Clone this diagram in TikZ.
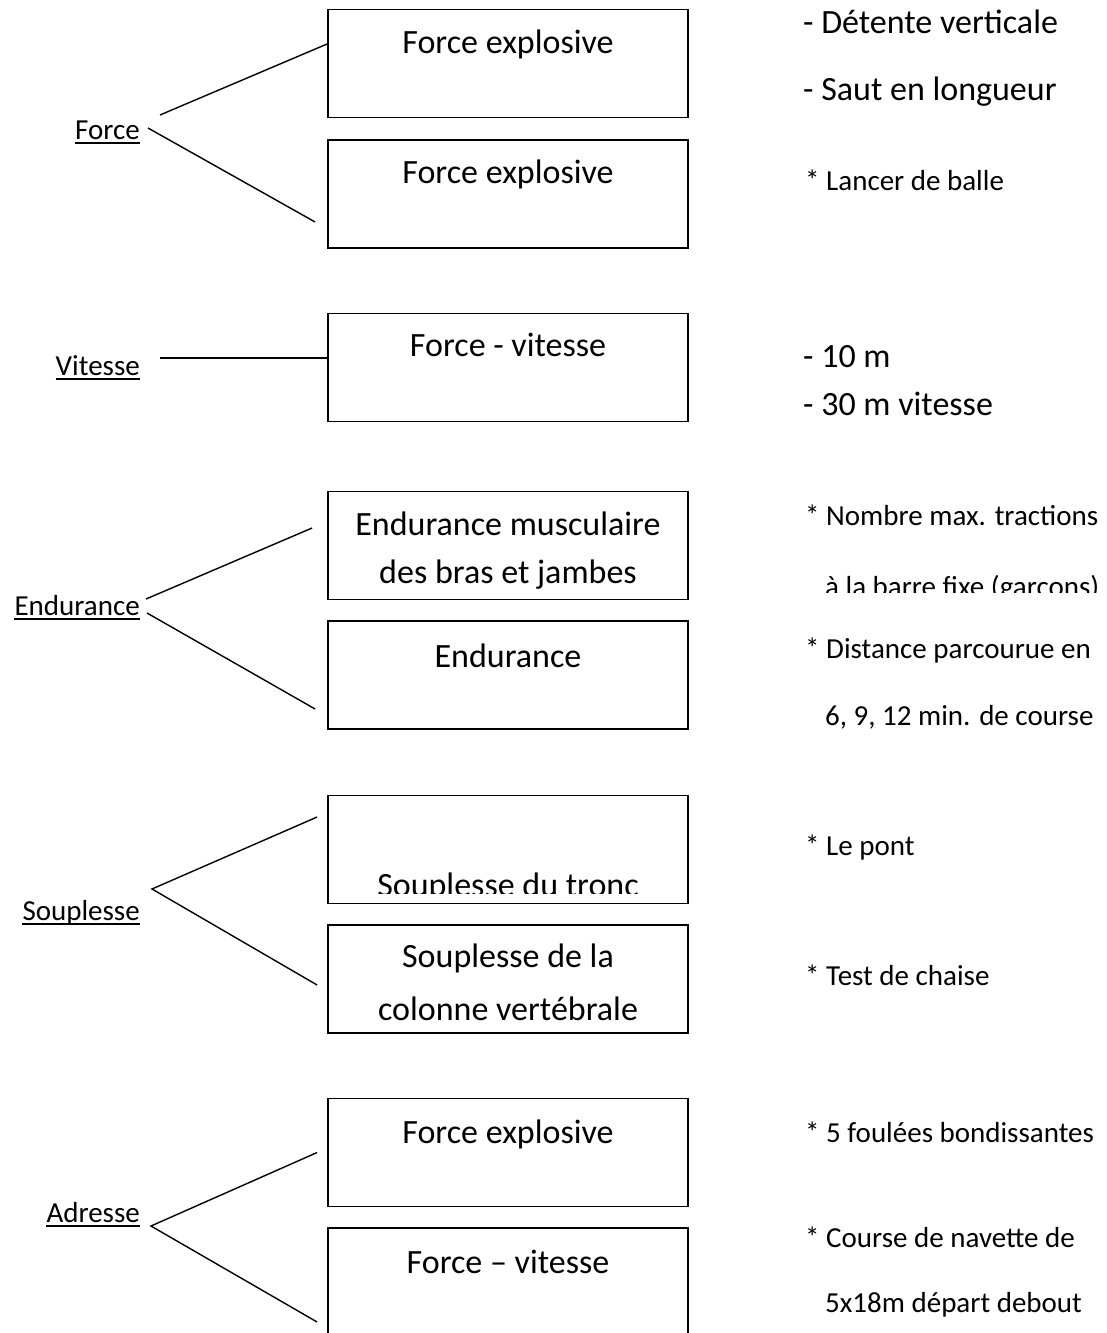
\documentclass[tikz,border=0pt]{standalone}
\usepackage{fontspec}
\setmainfont{Carlito}
\usetikzlibrary{positioning}
\tikzset{box/.style={rectangle,draw=black,line width=1.8pt,minimum width=360pt,
minimum height=108pt,inner sep=0pt},
boxtxt/.style={anchor=base,inner sep=0pt,font=\fontsize{34}{40}\selectfont},
bigtxt/.style={anchor=base west,inner sep=0pt,font=\fontsize{34}{40}\selectfont},
smalltxt/.style={bigtxt,font=\fontsize{29}{35}\selectfont},
quality/.style={anchor=base east,inner sep=0pt,font=\fontsize{29}{35}\selectfont},
link/.style={line width=1.4pt},
uline/.style={line width=2pt}}

\begin{document}
\begin{tikzpicture}[x=1pt,y=-1pt]
  \useasboundingbox (0,0) rectangle (1107,1333);
  \clip (0,0) rectangle (1107,1333);

  \node (b1) [box] at (508,63.5) {};
  \node (b2) [box] at (508,194) {};
  \node (b3) [box] at (508,367.5) {};
  \node (b4) [box] at (508,545.5) {};
  \node (b5) [box] at (508,675) {};
  \node (b6) [box] at (508,849.5) {};
  \node (b7) [box] at (508,979) {};
  \node (b8) [box] at (508,1152.5) {};
  \node (b9) [box] at (508,1282) {};

  \node (t1) [boxtxt] at (508,53) {Force explosive};
  \node (t2) [boxtxt] at (508,183) {Force explosive};
  \node (t3) [boxtxt] at (508,356) {Force - vitesse};
  \node (t4a) [boxtxt] at (508,535) {Endurance musculaire};
  \node (t4b) [boxtxt] at (508,583) {des bras et jambes};
  \node (t5) [boxtxt] at (508,667) {Endurance};
  \begin{scope}
    \clip (330,800) rectangle (686,893);
    \node (t6) [boxtxt] at (508,896) {Souplesse du tronc};
  \end{scope}
  \node (t7a) [boxtxt] at (508,967) {Souplesse de la};
  \node (t7b) [boxtxt] at (508,1020) {colonne vertébrale};
  \node (t8) [boxtxt] at (508,1143) {Force explosive};
  \node (t9) [boxtxt] at (508,1273) {Force – vitesse};

  \node (force) [quality] at (140,139) {Force};
  \node (vitesse) [quality] at (140,375) {Vitesse};
  \node (endurance) [quality] at (140,615) {Endurance};
  \node (souplesse) [quality] at (140,920) {Souplesse};
  \node (adresse) [quality] at (140,1222) {Adresse};
  \foreach \q in {force,vitesse,endurance,souplesse,adresse}
    \draw [uline] ([yshift=-3.5pt]\q.base west) -- ([yshift=-3.5pt]\q.base east);

  \draw [link] ([xshift=20pt,yshift=24pt]force.base east) -- ([yshift=19.5pt]b1.west);
  \draw [link] ([xshift=8pt,yshift=11pt]force.base east) -- ([xshift=-12pt,yshift=-28pt]b2.west);
  \draw [link] ([xshift=20pt,yshift=17pt]vitesse.base east) -- ([yshift=9.5pt]b3.west);
  \draw [link] ([xshift=6pt,yshift=16pt]endurance.base east) -- ([xshift=-15pt,yshift=17.5pt]b4.west);
  \draw [link] ([xshift=7pt,yshift=2pt]endurance.base east) -- ([xshift=-12pt,yshift=-34pt]b5.west);
  \coordinate (sapex) at ([xshift=12pt,yshift=31pt]souplesse.base east);
  \draw [link] ([xshift=-10pt,yshift=32.5pt]b6.west) -- (sapex) -- ([xshift=-10pt,yshift=-6pt]b7.west);
  \coordinate (aapex) at ([xshift=11pt,yshift=-4pt]adresse.base east);
  \draw [link] ([xshift=-10pt]b8.west) -- (aapex) -- ([xshift=-10pt,yshift=-40pt]b9.west);

  \node (r1) [bigtxt] at (803,33) {- Détente verticale};
  \node (r2) [bigtxt] at (803,100) {- Saut en longueur};
  \node (r3) [smalltxt] at (805,190) {* Lancer de balle};
  \node (r4) [bigtxt] at (803,367) {- 10 m};
  \node (r5) [bigtxt] at (803,415) {- 30 m vitesse};
  \node (r6) [smalltxt] at (805,525) {* Nombre max. tractions};
  \begin{scope}
    \clip (780,540) rectangle (1107,592);
    \node (r7) [smalltxt] at (825,596) {à la barre fixe (garçons)};
  \end{scope}
  \node (r8) [smalltxt] at (805,658) {* Distance parcourue en};
  \node (r9) [smalltxt] at (825,725) {6, 9, 12 min. de course};
  \node (r10) [smalltxt] at (805,855) {* Le pont};
  \node (r11) [smalltxt] at (805,985) {* Test de chaise};
  \node (r12) [smalltxt] at (805,1142) {* 5 foulées bondissantes};
  \node (r13) [smalltxt] at (805,1247) {* Course de navette de};
  \node (r14) [smalltxt] at (825,1312) {5x18m départ debout};
\end{tikzpicture}
\end{document}
